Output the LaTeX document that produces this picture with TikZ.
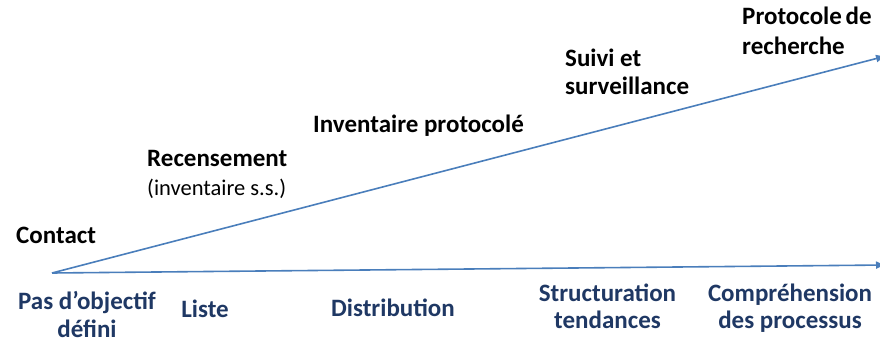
\documentclass[tikz,border=0pt]{standalone}
\usepackage{fontspec}
\setmainfont{Carlito}
\usetikzlibrary{arrows.meta}
\definecolor{axis}{RGB}{74,126,187}
\definecolor{dblue}{RGB}{31,56,100}
\begin{document}
\begin{tikzpicture}[x=1pt,y=1pt,
  toplab/.style={font=\fontsize{25}{30}\selectfont\bfseries, text=black, inner sep=0pt, anchor=base west},
  subtoplab/.style={font=\fontsize{22.5}{27}\selectfont, text=black, inner sep=0pt, anchor=base west},
  botlab/.style={font=\fontsize{25}{30}\selectfont\bfseries, text=dblue, inner sep=0pt, anchor=base},
  axisline/.style={draw=axis, line width=1.6pt, -{Latex[length=10pt,width=8pt]}}]
\useasboundingbox (0,0) rectangle (880,343);
\begin{scope}
\clip (0,0) rectangle (880,343);
\coordinate (o) at (52,70);
\coordinate (top) at (886,287);
\coordinate (bot) at (886,78);
\draw[axisline] (o) -- (top);
\draw[axisline] (o) -- (bot);
\end{scope}
% top labels
\node[toplab] (prot1) at (742,318) {Protocole\hspace{0.15em}de};
\node[toplab] (prot2) at (742,288) {recherche};
\node[toplab] (suivi1) at (565,276) {Suivi et};
\node[toplab] (suivi2) at (565,248) {surveillance};
\node[toplab] (inv) at (313,210) {Inventaire protocolé};
\node[toplab] (rec1) at (147,176) {Recensement};
\node[subtoplab] (rec2) at (147,148) {(inventaire s.s.)};
\node[toplab] (cont) at (16,100) {Contact};
% bottom labels
\node[botlab] (pas1) at (87,34) {Pas d’objectif};
\node[botlab] (pas2) at (87,6) {défini};
\node[botlab] (liste) at (205,26) {Liste};
\node[botlab] (distr) at (393,27) {Distribution};
\node[botlab] (struct1) at (607.5,42) {Structuration};
\node[botlab] (struct2) at (607.5,15) {tendances};
\node[botlab] (comp1) at (790,42) {Compréhension};
\node[botlab] (comp2) at (790,15) {des processus};
\end{tikzpicture}
\end{document}
